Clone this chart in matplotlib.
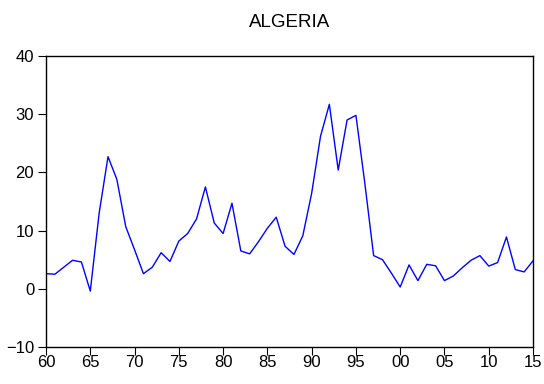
import matplotlib
matplotlib.use('Agg')
import matplotlib.pyplot as plt
from matplotlib.ticker import FuncFormatter

# Algeria, annual values 1960-2015
years = list(range(1960, 2016))
values = [2.6, 2.5, 3.7, 4.9, 4.6, -0.4, 13.0, 22.7, 18.8, 10.7,
          6.7, 2.6, 3.7, 6.2, 4.7, 8.2, 9.5, 12.0, 17.5, 11.3,
          9.5, 14.7, 6.5, 6.0, 8.1, 10.4, 12.3, 7.3, 5.9, 9.1,
          16.4, 26.2, 31.7, 20.4, 29.0, 29.8, 18.2, 5.7, 5.0, 2.7,
          0.3, 4.1, 1.4, 4.2, 3.95, 1.4, 2.2, 3.6, 4.9, 5.7,
          3.9, 4.5, 8.9, 3.3, 2.9, 4.8]
xticks = list(range(1960, 2016, 5))
yticks = [-10, 0, 10, 20, 30, 40]

plt.rcParams['font.family'] = ['Liberation Sans', 'DejaVu Sans']

fig = plt.figure(figsize=(5.44, 3.84), dpi=100)
ax = fig.add_axes([0.0846, 0.0964, 0.8952, 0.7578])

ax.plot(years, values, color='#0000ff', linewidth=1.0)

ax.set_xlim(1960, 2015)
ax.set_ylim(-10, 40)
ax.set_xticks(xticks)
ax.set_yticks(yticks)
ax.xaxis.set_major_formatter(FuncFormatter(lambda v, p: '%02d' % (int(round(v)) % 100)))
ax.tick_params(axis='both', direction='out', labelsize=12, width=0.8)
ax.tick_params(axis='x', length=5.5, pad=0.5)
ax.tick_params(axis='y', length=5.5, pad=3)
for s in ax.spines.values():
    s.set_linewidth(1.0)

ax.set_title('ALGERIA', fontsize=13.5, pad=21)

fig.savefig('out.png', dpi=100)
